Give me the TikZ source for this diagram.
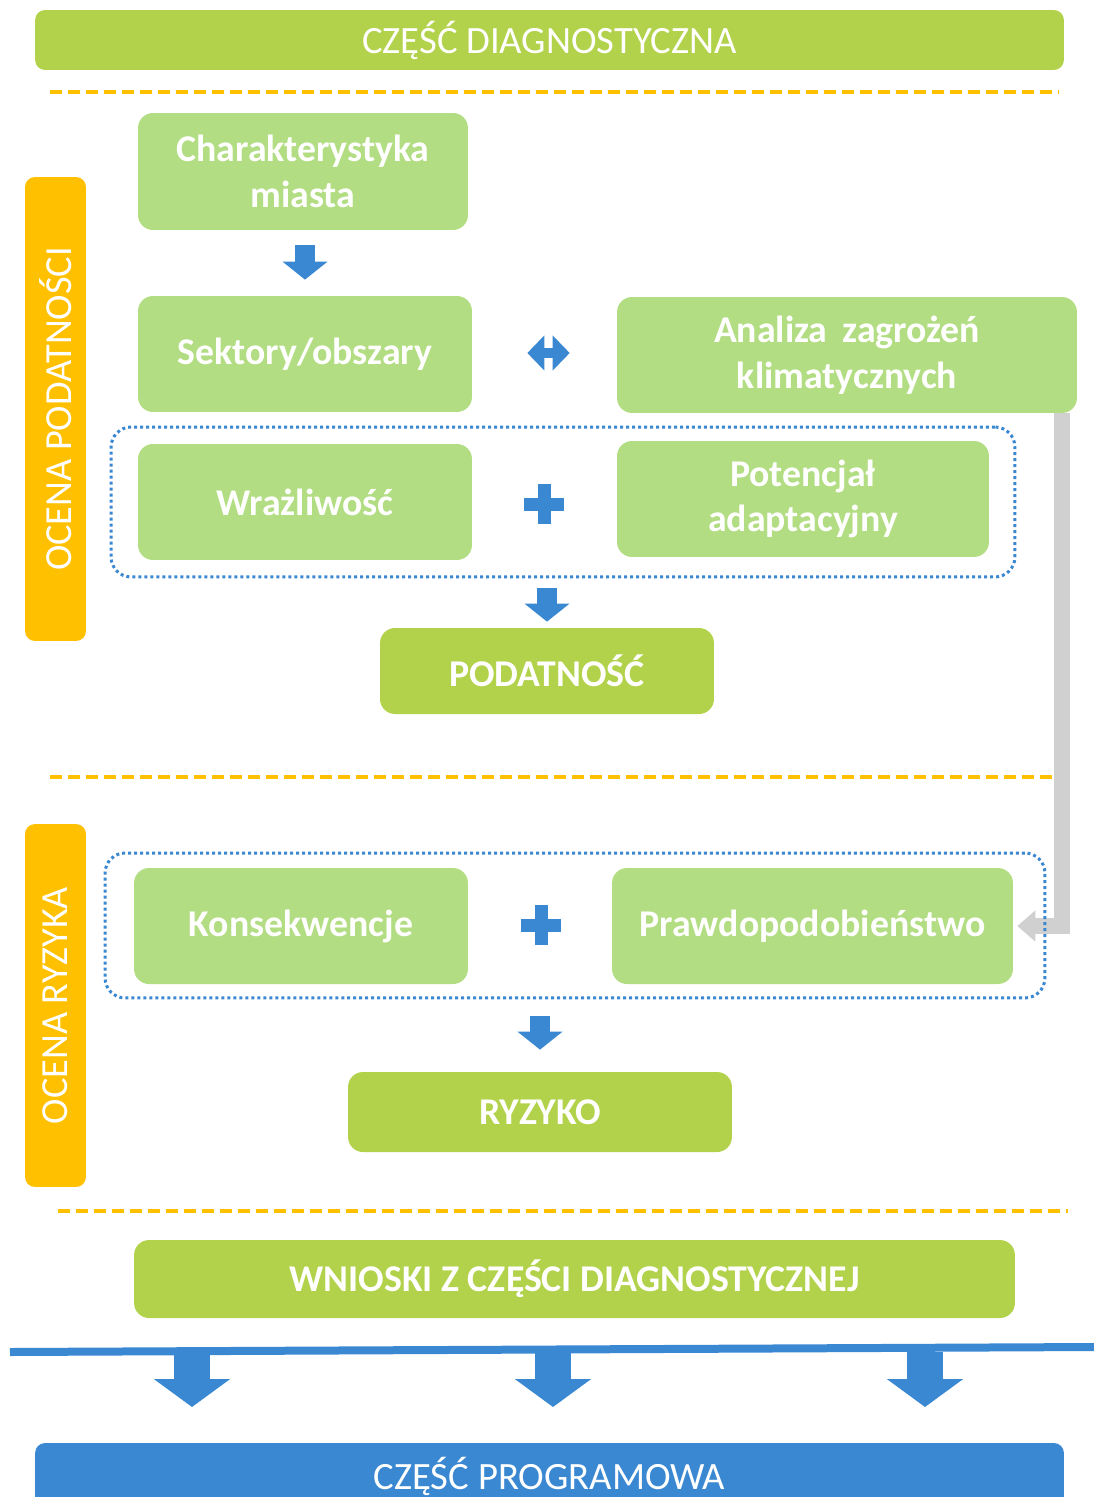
\documentclass[tikz,border=0pt]{standalone}
\usepackage{fontspec}
\setmainfont{Carlito}
\usetikzlibrary{arrows.meta}

\definecolor{bandgreen}{HTML}{B3D24B}
\definecolor{boxgreen}{HTML}{B2DD82}
\definecolor{sideorange}{HTML}{FFC000}
\definecolor{markblue}{HTML}{3A88D2}
\definecolor{linkgray}{HTML}{D0D0D0}

\tikzset{
  box/.style={fill=boxgreen, rounded corners=0.3cm, text=white, align=center,
    font=\bfseries\fontsize{21.5}{26}\selectfont, minimum height=2.32cm, inner sep=0pt},
  result/.style={box, fill=bandgreen},
  band/.style={fill=bandgreen, rounded corners=0.2cm, text=white,
    font=\fontsize{22}{26}\selectfont, minimum width=20.58cm, inner sep=0pt},
  sidebar/.style={fill=sideorange, rounded corners=0.2cm, text=white, rotate=90,
    font=\fontsize{21.8}{25}\selectfont, minimum height=1.22cm, inner sep=0pt},
  group/.style={draw=markblue, line width=0.06cm, dash pattern=on 0.06cm off 0.06cm,
    rounded corners=0.4cm, inner sep=0pt},
  divider/.style={draw=sideorange, line width=0.07cm, dash pattern=on 0.24cm off 0.12cm},
  downarrow/.style={draw=markblue, line width=0.4cm, -{Triangle[width=0.88cm,length=0.36cm]}},
  twoway/.style={draw=markblue, line width=0.2cm,
    {Triangle[width=0.68cm,length=0.34cm]}-{Triangle[width=0.68cm,length=0.34cm]}},
  plusmark/.style={draw=markblue, line width=0.26cm},
  feedback/.style={draw=linkgray, line width=0.32cm, -{Triangle[width=0.6cm,length=0.36cm]}},
  bigarrow/.style={draw=markblue, line width=0.72cm, -{Triangle[width=1.5cm,length=0.56cm]}},
}

\begin{document}
\begin{tikzpicture}[x=0.02cm, y=-0.02cm]
  \useasboundingbox (0,0) rectangle (1094,1497);

  % top band
  \node[band, minimum height=1.2cm] (diag) at (549.5,40) {CZĘŚĆ DIAGNOSTYCZNA};
  \draw[divider] (50,92) -- (1058,92);

  % ocena podatnosci
  \node[sidebar, minimum width=9.28cm] (sidepod) at (55.5,409) {OCENA PODATNOŚCI};
  \node[box, minimum width=6.6cm, minimum height=2.34cm] (char) at (303,171.5) {Charakterystyka\\miasta};
  \node[box, minimum width=6.68cm] (sekt) at (305,354) {Sektory/obszary};
  \node[box, minimum width=9.2cm] (anal) at (847,355) {Analiza\ \,zagrożeń\\klimatycznych};
  \node[box, minimum width=6.68cm] (wraz) at (305,502) {Wrażliwość};
  \node[box, minimum width=7.44cm] (pot) at (803,499) {Potencjał\\adaptacyjny};
  \node[result, minimum width=6.68cm, minimum height=1.72cm] (podat) at (547,671) {PODATNOŚĆ};

  \draw[downarrow, shorten <=0.3cm, shorten >=0.32cm] (char.south -| sekt.north) -- (sekt.north);
  \draw[twoway, shorten <=1.1cm, shorten >=0.94cm] ([yshift=0.02cm]sekt.east) -- ([yshift=0.02cm]sekt.east -| anal.west);
  \coordinate (plusA) at (544,504);
  \draw[plusmark] (plusA) +(-20,0) -- +(20,0) (plusA) +(0,-20) -- +(0,20);

  \draw[divider] (50,777) -- (1058,777);

  % ocena ryzyka
  \node[sidebar, minimum width=7.26cm] (sidery) at (55.5,1005.5) {OCENA RYZYKA};
  \node[box, minimum width=6.68cm] (kons) at (301,926) {Konsekwencje};
  \node[box, minimum width=8.02cm] (prawd) at (812.5,926) {Prawdopodobieństwo};
  \node[result, minimum width=7.68cm, minimum height=1.6cm] (ryz) at (540,1112) {RYZYKO};
  \coordinate (plusB) at (541,925);
  \draw[plusmark] (plusB) +(-20,0) -- +(20,0) (plusB) +(0,-20) -- +(0,20);

  % link from hazards to probability
  \draw[feedback, shorten >=0.08cm] ([xshift=-0.3cm]anal.south east) |- (prawd.east);

  % dotted groups
  \node[group, minimum width=18.08cm, minimum height=3cm] (grpA) at (563,502) {};
  \node[group, minimum width=18.8cm, minimum height=2.9cm] (grpB) at (575,925.5) {};
  \draw[downarrow, shorten <=0.2cm, shorten >=0.12cm] (grpA.south -| podat.north) -- (podat.north);
  \draw[downarrow, shorten <=0.34cm, shorten >=0.44cm] (grpB.south -| ryz.north) -- (ryz.north);

  \draw[divider] (58,1211) -- (1068,1211);

  % conclusions
  \node[result, minimum width=17.62cm, minimum height=1.56cm] (wnio) at (574.5,1279) {WNIOSKI Z CZĘŚCI DIAGNOSTYCZNEJ};
  \coordinate (lineL) at (10,1352);
  \coordinate (lineR) at (1094,1347);
  \draw[markblue, line width=0.16cm] (lineL) -- (lineR);
  \foreach \x/\n in {192/1,553/2,925/3}{
    \coordinate (top\n) at (\x,1352);
    \coordinate (tip\n) at (\x,1407);
    \draw[bigarrow] (top\n) -- (tip\n);
  }
  \node[band, fill=markblue, minimum height=1.34cm] (prog) at (549.5,1476.5) {CZĘŚĆ PROGRAMOWA};
\end{tikzpicture}
\end{document}
